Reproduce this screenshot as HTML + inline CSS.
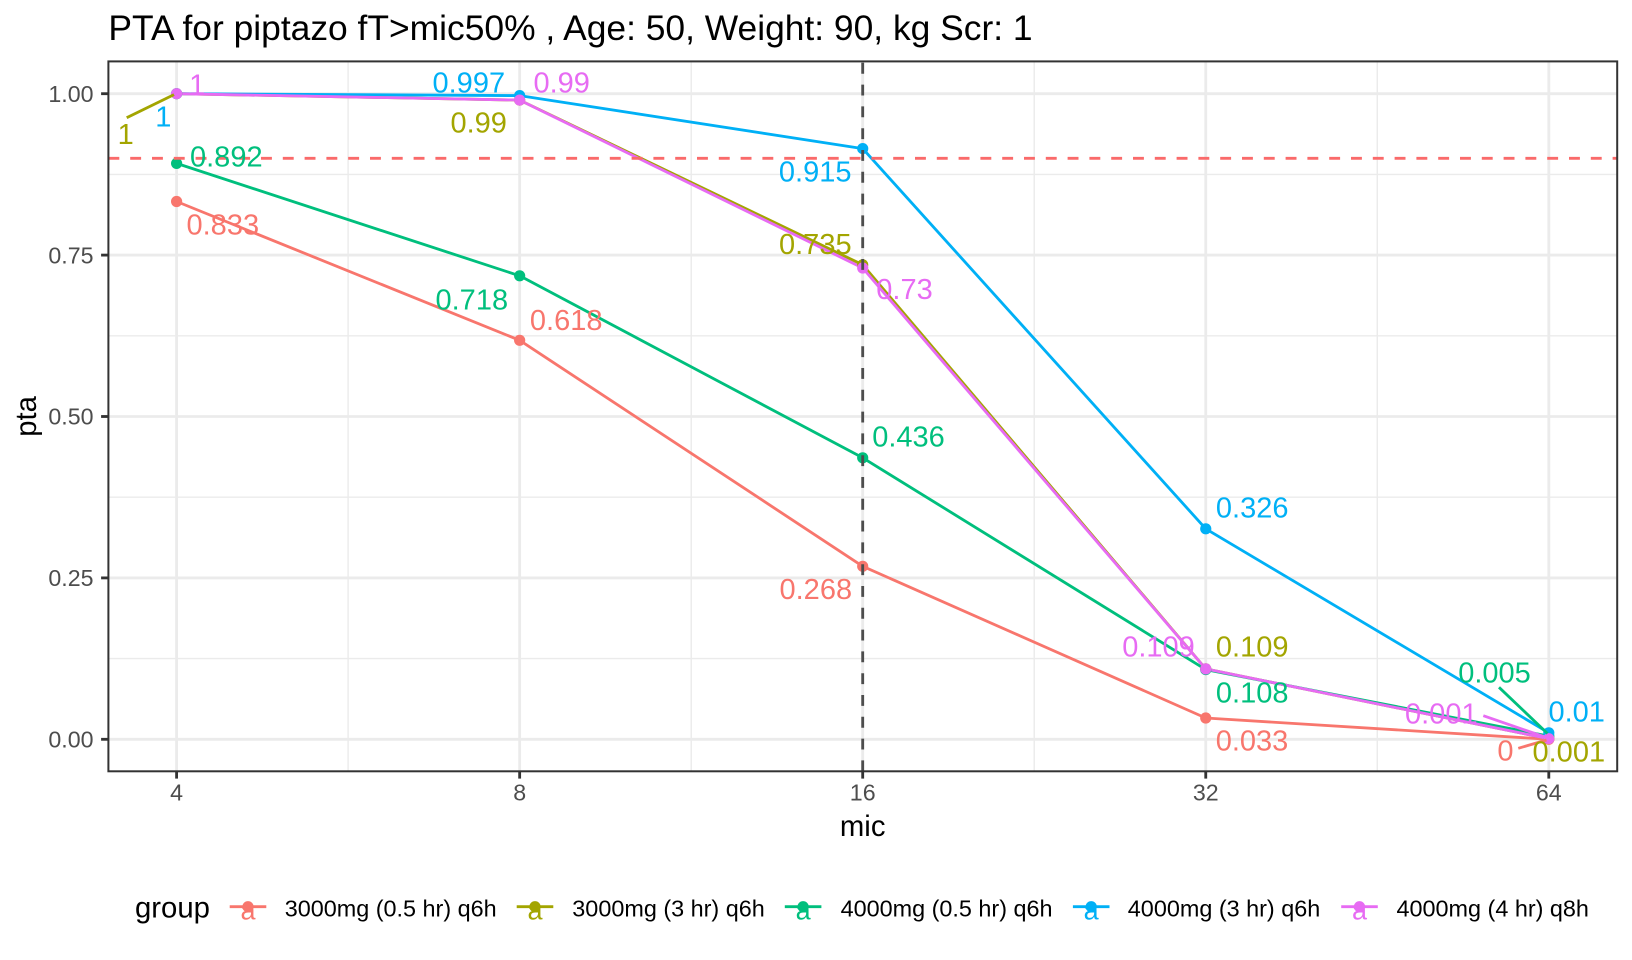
<!DOCTYPE html>
<html>
<head>
<meta charset="utf-8">
<style>
html,body{margin:0;padding:0;background:#fff;}
svg{display:block;}
text{font-family:"Liberation Sans", Arial, sans-serif;}
</style>
</head>
<body>
<svg width="1632" height="960" viewBox="0 0 1632 960" xmlns="http://www.w3.org/2000/svg">
  <rect x="0" y="0" width="1632" height="960" fill="#ffffff"/>

  <!-- Title -->
  <text x="108.4" y="40" font-size="35.4" fill="#000">PTA for piptazo fT&gt;mic50% , Age: 50, Weight: 90, kg Scr: 1</text>

  <!-- Panel background -->
  <rect x="108.4" y="61.4" width="1508.8" height="709.9" fill="#ffffff"/>

  <!-- Minor grid -->
  <g stroke="#EBEBEB" stroke-width="1.42" fill="none">
    <line x1="108.4" x2="1617.2" y1="174.4" y2="174.4"/>
    <line x1="108.4" x2="1617.2" y1="335.8" y2="335.8"/>
    <line x1="108.4" x2="1617.2" y1="497.2" y2="497.2"/>
    <line x1="108.4" x2="1617.2" y1="658.6" y2="658.6"/>
    <line x1="348.1" x2="348.1" y1="61.4" y2="771.3"/>
    <line x1="691.2" x2="691.2" y1="61.4" y2="771.3"/>
    <line x1="1034.2" x2="1034.2" y1="61.4" y2="771.3"/>
    <line x1="1377.3" x2="1377.3" y1="61.4" y2="771.3"/>
  </g>
  <!-- Major grid -->
  <g stroke="#EBEBEB" stroke-width="2.83" fill="none">
    <line x1="108.4" x2="1617.2" y1="93.7" y2="93.7"/>
    <line x1="108.4" x2="1617.2" y1="255.1" y2="255.1"/>
    <line x1="108.4" x2="1617.2" y1="416.5" y2="416.5"/>
    <line x1="108.4" x2="1617.2" y1="577.9" y2="577.9"/>
    <line x1="108.4" x2="1617.2" y1="739.3" y2="739.3"/>
    <line x1="176.6" x2="176.6" y1="61.4" y2="771.3"/>
    <line x1="519.65" x2="519.65" y1="61.4" y2="771.3"/>
    <line x1="862.7" x2="862.7" y1="61.4" y2="771.3"/>
    <line x1="1205.75" x2="1205.75" y1="61.4" y2="771.3"/>
    <line x1="1548.8" x2="1548.8" y1="61.4" y2="771.3"/>
  </g>

  <!-- Lines -->
  <g fill="none" stroke-width="2.83" stroke-linejoin="round" stroke-linecap="butt">
    <path stroke="#F8766D" d="M176.6,201.5 L519.65,340.3 L862.7,566.3 L1205.75,718.0 L1548.8,739.3"/>
    <path stroke="#A3A500" d="M176.6,93.7 L519.65,100.1 L862.7,264.8 L1205.75,668.9 L1548.8,738.7"/>
    <path stroke="#00BF7D" d="M176.6,163.4 L519.65,275.8 L862.7,457.8 L1205.75,669.6 L1548.8,736.1"/>
    <path stroke="#00B0F6" d="M176.6,93.7 L519.65,95.6 L862.7,148.6 L1205.75,528.8 L1548.8,732.8"/>
    <path stroke="#E76BF3" d="M176.6,93.7 L519.65,100.1 L862.7,268.0 L1205.75,668.9 L1548.8,738.7"/>
  </g>

  <!-- Points -->
  <g>
    <g fill="#F8766D">
      <circle cx="176.6" cy="201.5" r="5.6"/><circle cx="519.65" cy="340.3" r="5.6"/><circle cx="862.7" cy="566.3" r="5.6"/><circle cx="1205.75" cy="718.0" r="5.6"/><circle cx="1548.8" cy="739.3" r="5.6"/>
    </g>
    <g fill="#A3A500">
      <circle cx="176.6" cy="93.7" r="5.6"/><circle cx="519.65" cy="100.1" r="5.6"/><circle cx="862.7" cy="264.8" r="5.6"/><circle cx="1205.75" cy="668.9" r="5.6"/><circle cx="1548.8" cy="738.7" r="5.6"/>
    </g>
    <g fill="#00BF7D">
      <circle cx="176.6" cy="163.4" r="5.6"/><circle cx="519.65" cy="275.8" r="5.6"/><circle cx="862.7" cy="457.8" r="5.6"/><circle cx="1205.75" cy="669.6" r="5.6"/><circle cx="1548.8" cy="736.1" r="5.6"/>
    </g>
    <g fill="#00B0F6">
      <circle cx="176.6" cy="93.7" r="5.6"/><circle cx="519.65" cy="95.6" r="5.6"/><circle cx="862.7" cy="148.6" r="5.6"/><circle cx="1205.75" cy="528.8" r="5.6"/><circle cx="1548.8" cy="732.8" r="5.6"/>
    </g>
    <g fill="#E76BF3">
      <circle cx="176.6" cy="93.7" r="5.6"/><circle cx="519.65" cy="100.1" r="5.6"/><circle cx="862.7" cy="268.0" r="5.6"/><circle cx="1205.75" cy="668.9" r="5.6"/><circle cx="1548.8" cy="738.7" r="5.6"/>
    </g>
  </g>

  <!-- Reference lines -->
  <line x1="108.4" x2="1617.2" y1="158.3" y2="158.3" stroke="#FA6A6A" stroke-width="2.83" stroke-dasharray="10.9 10.9"/>
  <line x1="862.7" x2="862.7" y1="771.3" y2="61.4" stroke="#4D4D4D" stroke-width="2.83" stroke-dasharray="10.9 10.9"/>

  <!-- Repel segments -->
  <g stroke-width="2.83" fill="none">
    <line x1="126.7" y1="117.7" x2="174.0" y2="94.6" stroke="#A3A500"/>
    <line x1="1499" y1="687.3" x2="1547.5" y2="733.5" stroke="#00BF7D"/>
    <line x1="1483.3" y1="715.7" x2="1546.5" y2="737.5" stroke="#E76BF3"/>
    <line x1="1518.3" y1="748.3" x2="1546.5" y2="740" stroke="#F8766D"/>
  </g>

  <!-- Labels -->
  <g font-size="29" text-anchor="middle">
    <text x="197.2" y="94.3" fill="#E76BF3">1</text>
    <text x="163.3" y="126.7" fill="#00B0F6">1</text>
    <text x="125.7" y="144" fill="#A3A500">1</text>
    <text x="226.3" y="166.7" fill="#00BF7D">0.892</text>
    <text x="222.8" y="234.3" fill="#F8766D">0.833</text>
    <text x="468.8" y="92.7" fill="#00B0F6">0.997</text>
    <text x="561.7" y="92.7" fill="#E76BF3">0.99</text>
    <text x="478.7" y="132.7" fill="#A3A500">0.99</text>
    <text x="471.8" y="309.3" fill="#00BF7D">0.718</text>
    <text x="566.2" y="330" fill="#F8766D">0.618</text>
    <text x="815.3" y="254" fill="#A3A500">0.735</text>
    <text x="815.2" y="181.7" fill="#00B0F6">0.915</text>
    <text x="904.5" y="299" fill="#E76BF3">0.73</text>
    <text x="908.5" y="446.7" fill="#00BF7D">0.436</text>
    <text x="815.8" y="599" fill="#F8766D">0.268</text>
    <text x="1252.2" y="517.3" fill="#00B0F6">0.326</text>
    <text x="1158.5" y="656.7" fill="#E76BF3">0.109</text>
    <text x="1252.2" y="656.7" fill="#A3A500">0.109</text>
    <text x="1252.2" y="702.7" fill="#00BF7D">0.108</text>
    <text x="1252" y="750.7" fill="#F8766D">0.033</text>
    <text x="1494.5" y="682.7" fill="#00BF7D">0.005</text>
    <text x="1576.7" y="721.7" fill="#00B0F6">0.01</text>
    <text x="1441.3" y="723.3" fill="#E76BF3">0.001</text>
    <text x="1505.5" y="760.7" fill="#F8766D">0</text>
    <text x="1568.8" y="761.7" fill="#A3A500">0.001</text>
  </g>

  <!-- Panel border -->
  <rect x="108.4" y="61.4" width="1508.8" height="709.9" fill="none" stroke="#333333" stroke-width="2"/>

  <!-- Y ticks -->
  <g stroke="#333333" stroke-width="2.83">
    <line x1="101.1" x2="108.4" y1="93.7" y2="93.7"/>
    <line x1="101.1" x2="108.4" y1="255.1" y2="255.1"/>
    <line x1="101.1" x2="108.4" y1="416.5" y2="416.5"/>
    <line x1="101.1" x2="108.4" y1="577.9" y2="577.9"/>
    <line x1="101.1" x2="108.4" y1="739.3" y2="739.3"/>
  </g>
  <g font-size="23.2" fill="#4D4D4D" text-anchor="end">
    <text x="93.5" y="101.9">1.00</text>
    <text x="93.5" y="263.3">0.75</text>
    <text x="93.5" y="424.7">0.50</text>
    <text x="93.5" y="586.1">0.25</text>
    <text x="93.5" y="747.5">0.00</text>
  </g>

  <!-- X ticks -->
  <g stroke="#333333" stroke-width="2.83">
    <line x1="176.6" x2="176.6" y1="771.3" y2="778.6"/>
    <line x1="519.65" x2="519.65" y1="771.3" y2="778.6"/>
    <line x1="862.7" x2="862.7" y1="771.3" y2="778.6"/>
    <line x1="1205.75" x2="1205.75" y1="771.3" y2="778.6"/>
    <line x1="1548.8" x2="1548.8" y1="771.3" y2="778.6"/>
  </g>
  <g font-size="23.2" fill="#4D4D4D" text-anchor="middle">
    <text x="176.6" y="800.5">4</text>
    <text x="519.65" y="800.5">8</text>
    <text x="862.7" y="800.5">16</text>
    <text x="1205.75" y="800.5">32</text>
    <text x="1548.8" y="800.5">64</text>
  </g>

  <!-- Axis titles -->
  <text x="862.7" y="836" font-size="29.3" fill="#000" text-anchor="middle">mic</text>
  <text transform="translate(36,416.4) rotate(-90)" font-size="29.3" fill="#000" text-anchor="middle">pta</text>

  <!-- Legend -->
  <text x="135" y="917.3" font-size="29.3" fill="#000">group</text>

  <g stroke-width="2.83">
    <line x1="229.7" x2="266.3" y1="906.7" y2="906.7" stroke="#F8766D"/>
    <line x1="516.7" x2="553.3" y1="906.7" y2="906.7" stroke="#A3A500"/>
    <line x1="784.8" x2="821.4" y1="906.7" y2="906.7" stroke="#00BF7D"/>
    <line x1="1072.9" x2="1109.5" y1="906.7" y2="906.7" stroke="#00B0F6"/>
    <line x1="1341.2" x2="1377.8" y1="906.7" y2="906.7" stroke="#E76BF3"/>
  </g>
  <circle cx="248" cy="906.7" r="5.6" fill="#F8766D"/>
  <circle cx="535" cy="906.7" r="5.6" fill="#A3A500"/>
  <circle cx="803.1" cy="906.7" r="5.6" fill="#00BF7D"/>
  <circle cx="1091.2" cy="906.7" r="5.6" fill="#00B0F6"/>
  <circle cx="1359.5" cy="906.7" r="5.6" fill="#E76BF3"/>
  <g font-size="27" text-anchor="middle">
    <text x="248" y="919.5" fill="#F8766D">a</text>
    <text x="535" y="919.5" fill="#A3A500">a</text>
    <text x="803.1" y="919.5" fill="#00BF7D">a</text>
    <text x="1091.2" y="919.5" fill="#00B0F6">a</text>
    <text x="1359.5" y="919.5" fill="#E76BF3">a</text>
  </g>
  <g font-size="23.4" fill="#000">
    <text x="284.7" y="916.7">3000mg (0.5 hr) q6h</text>
    <text x="572.3" y="916.7">3000mg (3 hr) q6h</text>
    <text x="840.6" y="916.7">4000mg (0.5 hr) q6h</text>
    <text x="1127.8" y="916.7">4000mg (3 hr) q6h</text>
    <text x="1396.5" y="916.7">4000mg (4 hr) q8h</text>
  </g>
</svg>
</body>
</html>
